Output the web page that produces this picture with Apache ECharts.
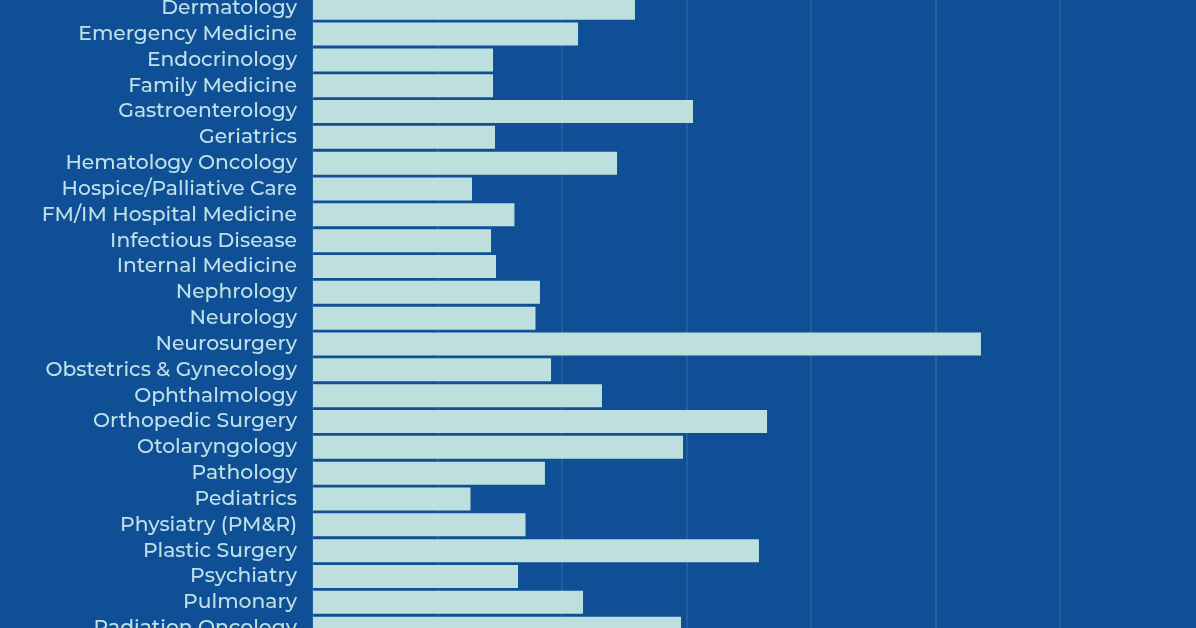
<!DOCTYPE html>
<html>
<head>
<meta charset="utf-8">
<style>html,body{margin:0;padding:0;background:#0f4f96}#main{width:1196px;height:628px}</style>
<script src="https://cdn.jsdelivr.net/npm/echarts@6/dist/echarts.min.js"></script>
</head>
<body>
<div id="main"></div>
<script>
var categories = ['Dermatology','Emergency Medicine','Endocrinology','Family Medicine','Gastroenterology','Geriatrics','Hematology Oncology','Hospice/Palliative Care','FM/IM Hospital Medicine','Infectious Disease','Internal Medicine','Nephrology','Neurology','Neurosurgery','Obstetrics & Gynecology','Ophthalmology','Orthopedic Surgery','Otolaryngology','Pathology','Pediatrics','Physiatry (PM&R)','Plastic Surgery','Psychiatry','Pulmonary','Radiation Oncology'];
// bar lengths, in gridline units (no axis labels are visible)
var values = [258.6,212.9,144.6,144.6,305.2,146.2,244.2,127.7,161.8,143,147,182.3,178.7,536.5,191.2,232.1,364.7,297.2,186.3,126.5,170.7,358.2,164.7,216.9,295.6];

var chart = echarts.init(document.getElementById('main'));
chart.setOption({
  animation: false,
  backgroundColor: '#0f4f96',
  grid: { left: 313, top: -4.7, width: 747, height: 645.75, outerBoundsMode: 'none' },
  xAxis: {
    type: 'value', min: 0, max: 600, interval: 100,
    axisLine: { show: false }, axisTick: { show: false }, axisLabel: { show: false },
    splitLine: { lineStyle: { color: '#2b63a2', width: 1.5 } }
  },
  yAxis: {
    type: 'category', data: categories, inverse: true,
    axisLine: { show: false }, axisTick: { show: false },
    axisLabel: { interval: 0, color: '#bfe0e6', fontSize: 20.3, fontWeight: 500, fontFamily: 'Montserrat, Inter, "Open Sans", sans-serif', margin: 16, padding: [1, 0, 0, 0] }
  },
  series: [{
    type: 'bar', data: values, barWidth: 23,
    itemStyle: { color: '#bde0de' }
  }]
});
</script>
</body>
</html>
